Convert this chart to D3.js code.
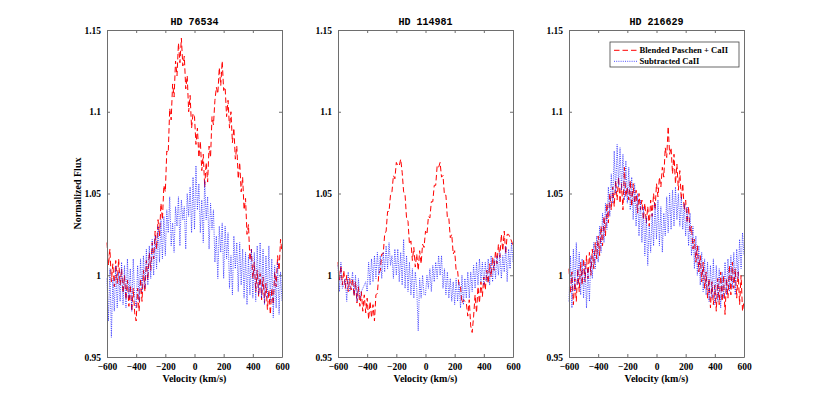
<!DOCTYPE html>
<html>
<head>
<meta charset="utf-8">
<script src="https://cdn.jsdelivr.net/npm/d3@7"></script>
<style>
  body { margin: 0; background: #fff; }
  text { fill: #000; }
</style>
</head>
<body>
<div class="js-vis"></div>
<script>
// velocity grid (km/s), one sample every 10 km/s
const velocity = d3.range(-600, 601, 10)

const titles = ['HD 76534', 'HD 114981', 'HD 216629']
const xTicks = [-600, -400, -200, 0, 200, 400, 600]
const yTicks = [0.95, 1, 1.05, 1.1, 1.15]
const legendLabels = ['Blended Paschen + CaII', 'Subtracted CaII']

const hd76534Blend = [
  1.020, 1.006, 1.016, 0.996, 1.007, 0.993, 1.009, 0.995, 1.010, 0.994,
  1.004, 0.989, 1.000, 0.985, 0.997, 0.981, 0.994, 0.978, 0.992, 0.977,
  0.972, 0.992, 0.978, 0.998, 0.984, 1.003, 0.990, 1.009, 0.997, 1.014,
  1.003, 1.020, 1.010, 1.027, 1.016, 1.034, 1.024, 1.044, 1.034, 1.055,
  1.051, 1.076, 1.075, 1.102, 1.095, 1.117, 1.109, 1.131, 1.122, 1.142,
  1.130, 1.145, 1.128, 1.134, 1.114, 1.122, 1.100, 1.110, 1.090, 1.099,
  1.097, 1.080, 1.090, 1.072, 1.082, 1.064, 1.074, 1.054, 1.069, 1.057,
  1.079, 1.072, 1.097, 1.092, 1.107, 1.115, 1.111, 1.127, 1.116, 1.131,
  1.113, 1.115, 1.097, 1.107, 1.090, 1.100, 1.081, 1.090, 1.071, 1.079,
  1.059, 1.069, 1.051, 1.060, 1.040, 1.047, 1.025, 1.031, 1.009, 1.016,
  0.998, 1.008, 0.990, 1.003, 0.987, 1.001, 0.985, 0.999, 0.983, 0.995,
  0.979, 0.991, 0.976, 0.992, 0.982, 1.002, 0.993, 1.012, 1.003, 1.022,
  1.014
]
const hd76534Sub = [
  0.998, 0.972, 1.004, 0.962, 0.998, 0.978, 1.006, 0.980, 1.002, 0.984,
  1.008, 0.982, 1.006, 0.980, 1.010, 0.986, 1.004, 0.978, 1.010, 0.986,
  0.980, 1.006, 0.984, 1.010, 0.990, 1.012, 0.992, 1.016, 0.994, 1.018,
  0.998, 1.022, 1.000, 1.024, 1.004, 1.030, 1.008, 1.034, 1.010, 1.036,
  1.012, 1.040, 1.026, 1.048, 1.018, 1.032, 1.014, 1.042, 1.030, 1.048,
  1.018, 1.046, 1.034, 1.042, 1.016, 1.050, 1.036, 1.054, 1.026, 1.060,
  1.028, 1.067, 1.040, 1.056, 1.026, 1.046, 1.020, 1.058, 1.034, 1.048,
  1.016, 1.044, 1.028, 1.040, 1.008, 1.024, 0.998, 1.030, 1.014, 1.032,
  0.998, 1.030, 1.010, 1.026, 0.992, 1.012, 0.988, 1.024, 1.004, 1.020,
  0.990, 1.020, 0.994, 1.016, 0.986, 1.014, 0.982, 1.012, 0.988, 1.016,
  0.986, 1.014, 0.984, 1.018, 0.988, 1.020, 0.986, 1.016, 0.982, 1.012,
  0.986, 1.018, 0.984, 1.010, 0.974, 1.006, 0.980, 1.008, 0.976, 1.002,
  0.984
]

const hd114981Blend = [
  1.008, 0.997, 1.006, 0.994, 1.003, 0.992, 1.000, 0.990, 0.998, 0.991,
  0.998, 0.987, 0.996, 0.983, 0.993, 0.981, 0.990, 0.978, 0.988, 0.977,
  0.986, 0.973, 0.984, 0.974, 0.982, 0.972, 0.988, 0.989, 1.001, 1.003,
  1.013, 1.013, 1.025, 1.027, 1.039, 1.039, 1.049, 1.051, 1.061, 1.059,
  1.069, 1.067, 1.067, 1.071, 1.063, 1.051, 1.049, 1.035, 1.033, 1.019,
  1.021, 1.009, 1.017, 1.005, 1.013, 1.003, 1.015, 1.007, 1.019, 1.017,
  1.027, 1.025, 1.036, 1.035, 1.045, 1.045, 1.055, 1.055, 1.067, 1.066,
  1.069, 1.060, 1.061, 1.049, 1.049, 1.035, 1.035, 1.023, 1.025, 1.013,
  1.015, 1.003, 1.003, 0.993, 0.993, 0.983, 0.985, 0.984, 0.983, 0.975,
  0.985, 0.969, 0.965, 0.975, 0.988, 0.977, 0.993, 0.983, 0.996, 0.987,
  0.999, 0.991, 1.003, 0.995, 1.007, 0.999, 1.011, 1.003, 1.015, 1.007,
  1.019, 1.011, 1.025, 1.015, 1.027, 1.013, 1.025, 1.025, 1.023, 1.021,
  1.018
]
const hd114981Sub = [
  1.006, 0.990, 1.008, 0.992, 0.994, 0.998, 0.984, 1.002, 0.990, 0.994,
  1.002, 0.988, 1.000, 0.984, 0.998, 0.986, 0.990, 0.992, 0.994, 0.996,
  0.990, 1.008, 0.994, 1.010, 0.996, 1.012, 0.998, 1.014, 1.000, 1.012,
  0.998, 1.014, 1.002, 1.018, 1.004, 1.020, 1.006, 1.012, 0.998, 1.016,
  1.000, 1.016, 0.996, 1.014, 0.994, 1.022, 0.992, 1.012, 0.990, 1.008,
  0.988, 1.004, 0.986, 1.002, 0.992, 0.966, 0.998, 0.986, 1.000, 0.988,
  0.988, 1.000, 0.992, 1.004, 0.990, 1.006, 0.996, 1.008, 0.998, 1.012,
  1.000, 1.012, 0.992, 1.004, 0.988, 1.002, 0.986, 0.998, 0.984, 0.996,
  0.982, 0.998, 0.984, 0.996, 0.980, 1.000, 0.982, 0.998, 0.986, 1.002,
  0.986, 1.002, 0.990, 1.006, 0.992, 1.008, 0.994, 1.010, 0.996, 1.008,
  0.994, 1.008, 0.996, 1.010, 0.994, 1.012, 0.996, 1.010, 0.998, 1.012,
  1.000, 1.014, 0.998, 1.012, 1.002, 1.018, 0.996, 1.016, 1.004, 1.020,
  1.008
]

const hd216629Blend = [
  1.004, 0.989, 1.002, 0.982, 0.998, 0.984, 1.004, 0.990, 1.008, 0.994,
  1.010, 0.996, 1.012, 0.998, 1.014, 1.000, 1.016, 1.004, 1.020, 1.010,
  1.024, 1.012, 1.030, 1.018, 1.036, 1.024, 1.044, 1.032, 1.050, 1.040,
  1.054, 1.042, 1.058, 1.046, 1.060, 1.044, 1.056, 1.040, 1.066, 1.048,
  1.054, 1.046, 1.058, 1.042, 1.056, 1.044, 1.052, 1.038, 1.050, 1.040,
  1.046, 1.034, 1.044, 1.032, 1.042, 1.030, 1.046, 1.036, 1.050, 1.040,
  1.056, 1.048, 1.060, 1.054, 1.066, 1.060, 1.078, 1.072, 1.091, 1.074,
  1.078, 1.062, 1.074, 1.056, 1.068, 1.052, 1.064, 1.046, 1.056, 1.040,
  1.046, 1.032, 1.042, 1.026, 1.030, 1.016, 1.022, 1.008, 1.018, 1.002,
  1.012, 0.996, 1.008, 0.992, 1.002, 0.986, 0.998, 0.980, 0.996, 0.982,
  0.994, 0.978, 0.998, 0.982, 1.002, 0.984, 1.000, 0.976, 0.998, 0.986,
  1.006, 0.988, 1.008, 0.992, 1.004, 0.986, 1.002, 0.982, 1.000, 0.978,
  0.984
]
const hd216629Sub = [
  0.984, 1.012, 0.980, 1.016, 0.990, 1.020, 0.994, 1.014, 0.988, 1.010,
  0.986, 1.008, 0.980, 1.004, 0.984, 1.012, 0.998, 1.020, 1.004, 1.024,
  1.008, 1.030, 1.014, 1.038, 1.020, 1.044, 1.028, 1.054, 1.036, 1.062,
  1.044, 1.076, 1.050, 1.080, 1.054, 1.078, 1.052, 1.074, 1.046, 1.070,
  1.044, 1.066, 1.040, 1.060, 1.034, 1.056, 1.030, 1.050, 1.024, 1.046,
  1.020, 1.042, 1.012, 1.036, 1.006, 1.030, 1.014, 1.038, 1.018, 1.044,
  1.022, 1.046, 1.018, 1.042, 1.014, 1.038, 1.024, 1.048, 1.026, 1.050,
  1.028, 1.052, 1.030, 1.054, 1.034, 1.050, 1.030, 1.048, 1.028, 1.044,
  1.024, 1.042, 1.018, 1.038, 1.012, 1.030, 1.004, 1.024, 1.000, 1.018,
  0.994, 1.014, 0.990, 1.010, 0.988, 1.008, 0.984, 1.006, 0.986, 1.010,
  0.982, 1.006, 0.984, 1.004, 0.980, 1.002, 0.986, 1.008, 0.988, 1.010,
  0.990, 1.012, 0.992, 1.014, 0.988, 1.016, 0.998, 1.022, 1.004, 1.026,
  1.012
]

const blends = [hd76534Blend, hd114981Blend, hd216629Blend]
const subs = [hd76534Sub, hd114981Sub, hd216629Sub]

const W = 822, H = 401
const panelLeft = [107, 338, 569],
    panelWidth = 175,
    plotTop = 30,
    plotHeight = 327

const serif = '"Liberation Serif", "Times New Roman", serif',
    mono = '"Liberation Mono", "Courier New", monospace'

const blendDash = '5.5,3',
    subDash = '1,1.2'

const svg = d3.select('.js-vis').append('svg')
    .attr('width', W)
    .attr('height', H)
    .style('display', 'block')

svg.append('rect').attr('width', W).attr('height', H).attr('fill', '#fff')

const y = d3.scaleLinear()
  .domain([0.95, 1.15])
  .range([plotHeight, 0])

titles.forEach(function(title, i) {
  const x = d3.scaleLinear()
    .domain([-600, 600])
    .range([0, panelWidth])

  const g = svg.append('g')
    .attr('transform', 'translate(' + panelLeft[i] + ',' + plotTop + ')')

  const line = d3.line()
    .x(function(d, j) { return x(velocity[j]) })
    .y(function(d) { return y(d) })

  g.append('path')
    .datum(blends[i])
    .attr('d', line)
    .attr('fill', 'none')
    .attr('stroke', '#ff0000')
    .attr('stroke-width', 1)
    .attr('stroke-dasharray', blendDash)

  g.append('path')
    .datum(subs[i])
    .attr('d', line)
    .attr('fill', 'none')
    .attr('stroke', '#0000ff')
    .attr('stroke-width', 0.7)
    .attr('stroke-dasharray', subDash)

  // axes, MATLAB box style with inward ticks on all sides
  const axB = g.append('g').attr('transform', 'translate(0,' + plotHeight + ')')
    .call(d3.axisBottom(x).tickValues(xTicks).tickSizeInner(-3).tickSizeOuter(0).tickPadding(6).tickFormat(d3.format('d')))
  const axT = g.append('g')
    .call(d3.axisTop(x).tickValues(xTicks).tickSizeInner(-3).tickSizeOuter(0).tickFormat(''))
  const axL = g.append('g')
    .call(d3.axisLeft(y).tickValues(yTicks).tickSizeInner(-3).tickSizeOuter(0).tickPadding(6).tickFormat(d3.format('~g')))
  const axR = g.append('g').attr('transform', 'translate(' + panelWidth + ',0)')
    .call(d3.axisRight(y).tickValues(yTicks).tickSizeInner(-3).tickSizeOuter(0).tickFormat(''))

  ;[axB, axT, axL, axR].forEach(function(a) {
    a.selectAll('.domain').attr('stroke', '#6e6e6e')
    a.selectAll('.tick line').attr('stroke', '#6e6e6e')
    a.selectAll('text')
      .attr('font-family', serif)
      .attr('font-weight', 'bold')
      .attr('font-size', 9.5)
      .attr('fill', '#000')
  })

  g.append('text')
    .attr('x', panelWidth / 2)
    .attr('y', -5)
    .attr('text-anchor', 'middle')
    .attr('font-family', mono)
    .attr('font-weight', 'bold')
    .attr('font-size', 10)
    .text(title)

  g.append('text')
    .attr('x', panelWidth / 2)
    .attr('y', plotHeight + 24.5)
    .attr('text-anchor', 'middle')
    .attr('font-family', serif)
    .attr('font-weight', 'bold')
    .attr('font-size', 10)
    .text('Velocity (km/s)')

  if (i == 0) {
    g.append('text')
      .attr('transform', 'translate(-26,' + (plotHeight / 2) + ') rotate(-90)')
      .attr('text-anchor', 'middle')
      .attr('font-family', serif)
      .attr('font-weight', 'bold')
      .attr('font-size', 10)
      .text('Normalized Flux')
  }

  if (i == 2) {
    const leg = g.append('g').attr('transform', 'translate(41,12)')
    leg.append('rect')
      .attr('width', 129)
      .attr('height', 25)
      .attr('fill', '#fff')
      .attr('stroke', '#444')
      .attr('stroke-width', 0.8)
    const items = leg.selectAll('.item')
      .data(legendLabels)
    .enter().append('g')
      .attr('class', 'item')
      .attr('transform', function(d, k) { return 'translate(0,' + (8.3 + k * 11) + ')' })
    items.append('line')
      .attr('x1', 4).attr('x2', 27)
      .attr('stroke', function(d, k) { return k == 0 ? '#ff0000' : '#0000ff' })
      .attr('stroke-width', function(d, k) { return k == 0 ? 1 : 0.7 })
      .attr('stroke-dasharray', function(d, k) { return k == 0 ? blendDash : subDash })
    items.append('text')
      .attr('x', 29.5)
      .attr('y', 3)
      .attr('font-family', serif)
      .attr('font-weight', 'bold')
      .attr('font-size', 8.6)
      .text(String)
  }
})
</script>
</body>
</html>
